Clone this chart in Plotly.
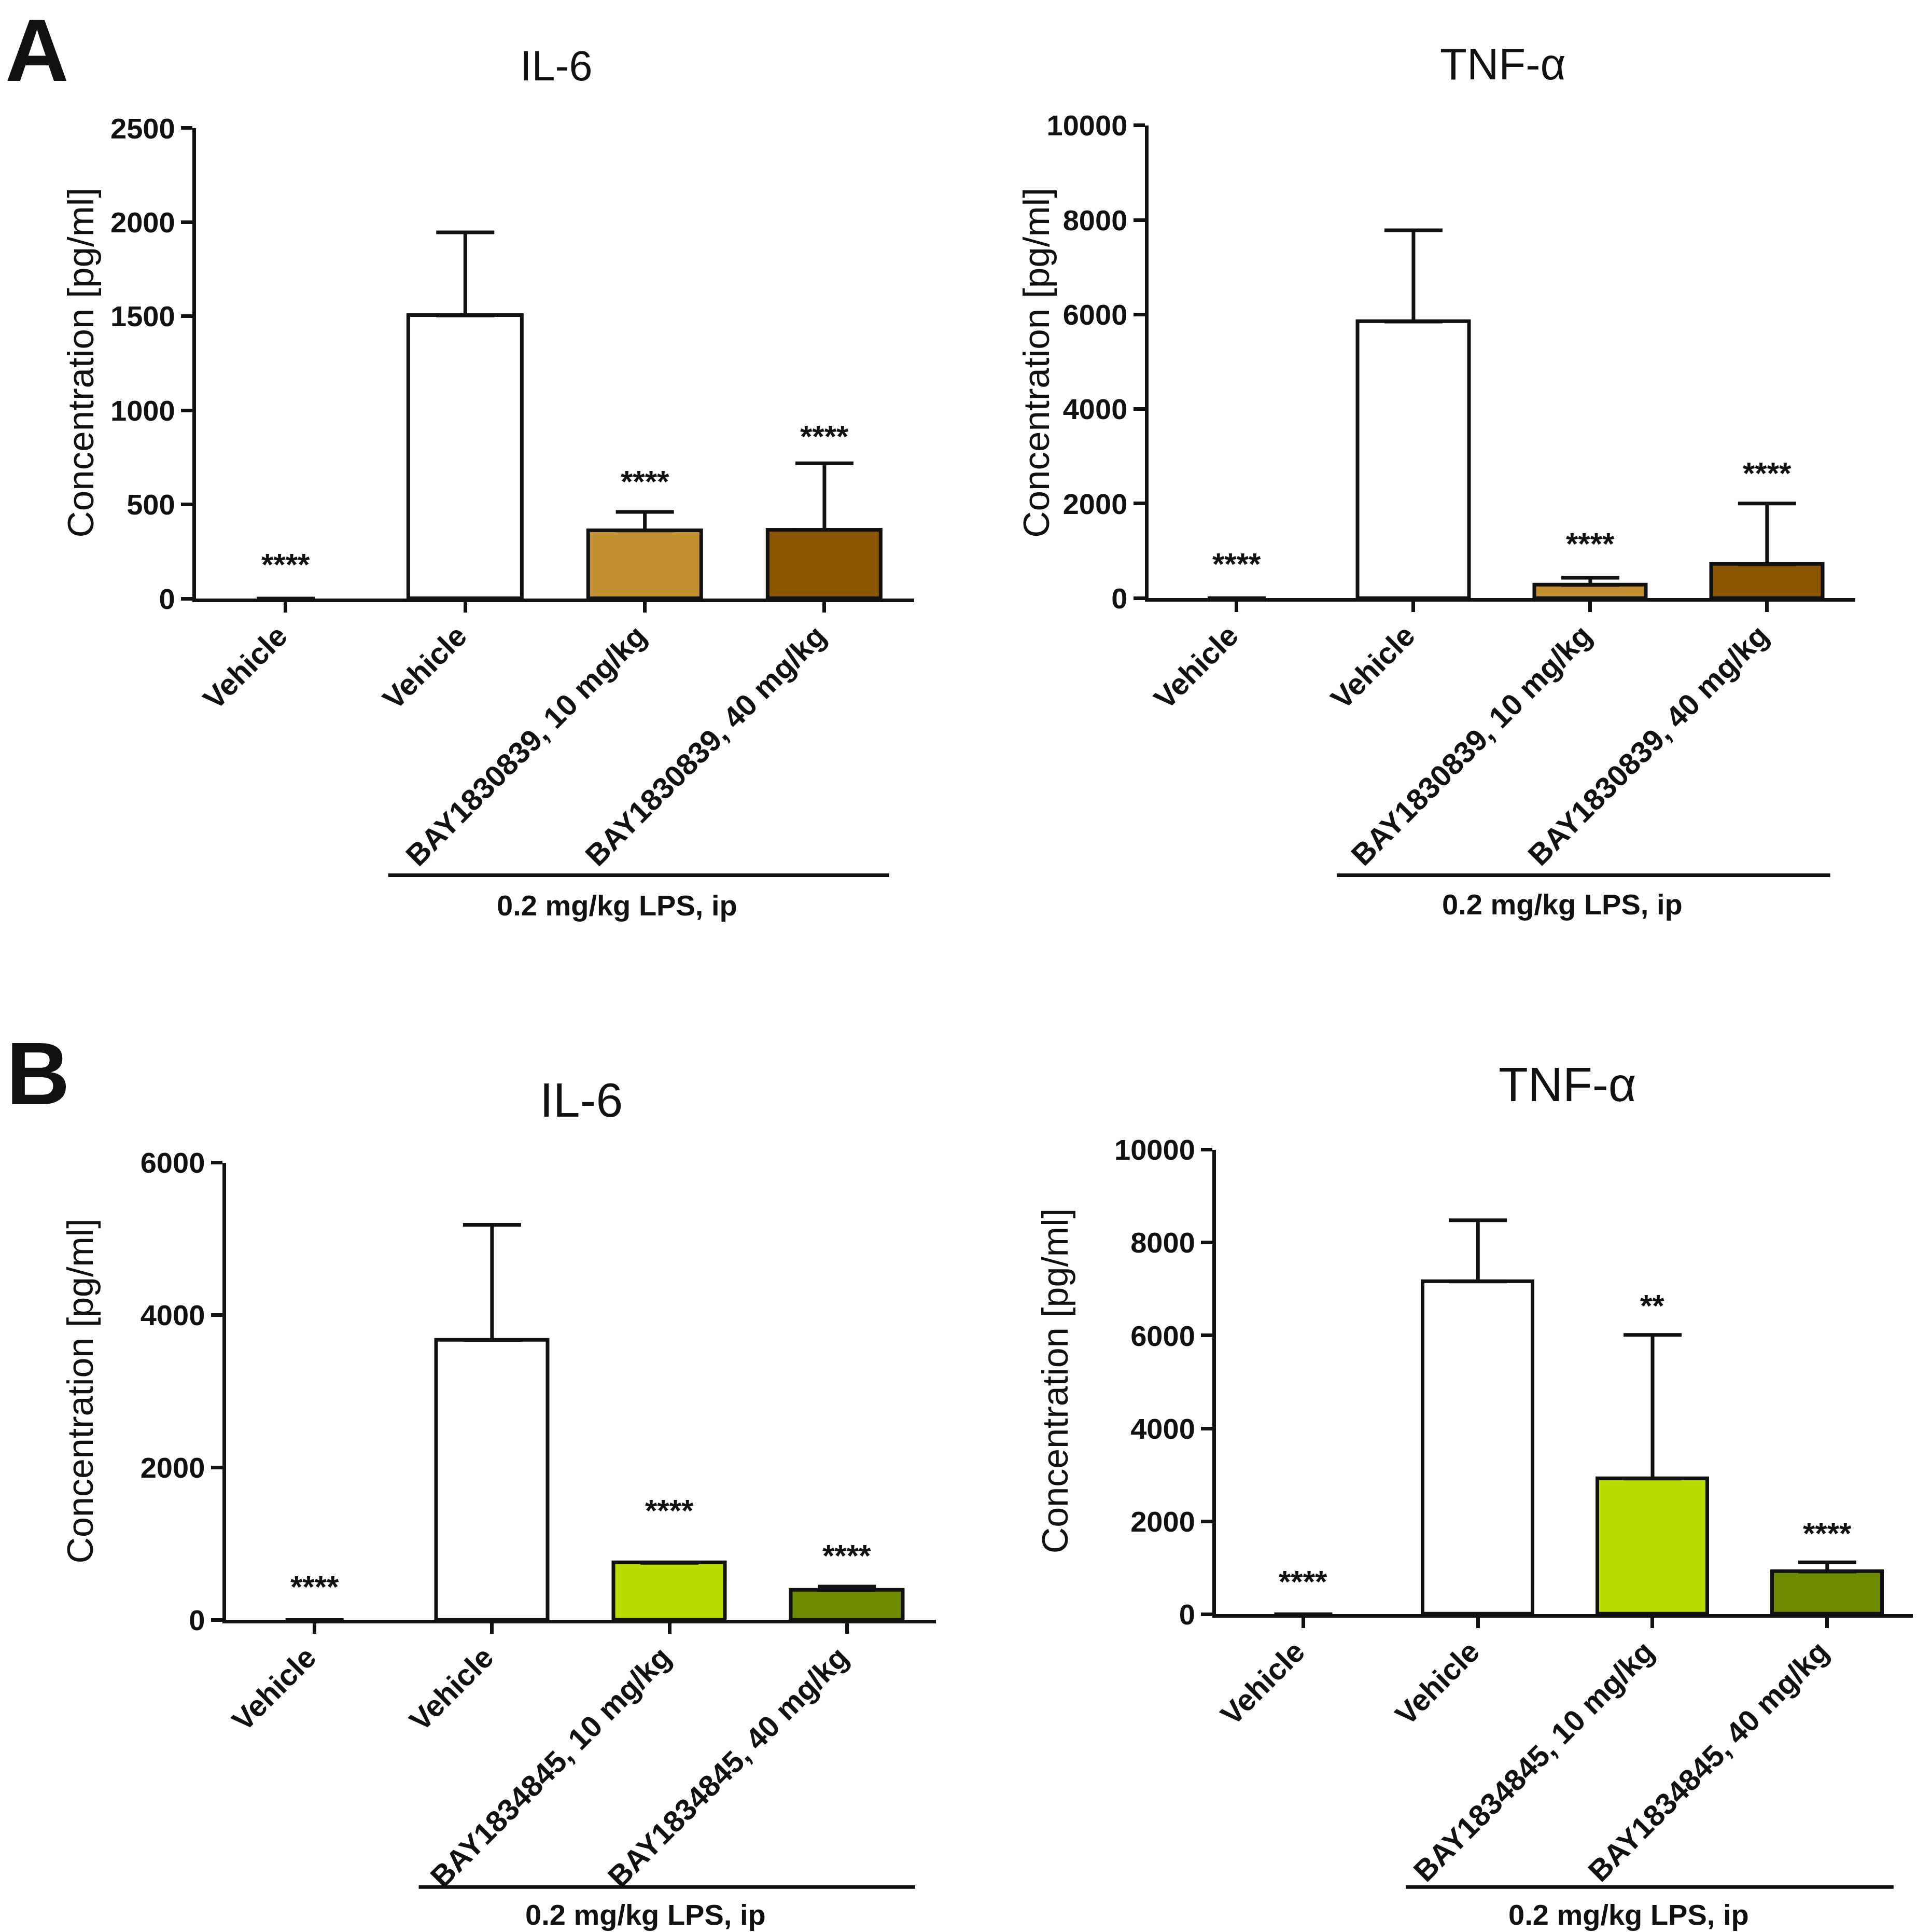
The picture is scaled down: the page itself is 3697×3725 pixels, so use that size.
import plotly.graph_objects as go

# ---------------------------------------------------------------------------
# data (mean and upper SD of each group)
# ---------------------------------------------------------------------------
x_pos = [0, 1, 2, 3]

labels_A = ["Vehicle", "Vehicle", "BAY1830839, 10 mg/kg", "BAY1830839, 40 mg/kg"]
labels_B = ["Vehicle", "Vehicle", "BAY1834845, 10 mg/kg", "BAY1834845, 40 mg/kg"]

il6_A_mean = [0, 1504, 362, 365]
il6_A_sd = [None, 442, 98, 354]
tnf_A_mean = [0, 5849, 279, 717]
tnf_A_sd = [None, 1931, 151, 1284]

il6_B_mean = [0, 3674, 750, 396]
il6_B_sd = [None, 1510, 0, 42]
tnf_B_mean = [0, 7163, 2921, 918]
tnf_B_sd = [None, 1319, 3092, 199]

# significance marks and the height they sit at
il6_A_stars = ["****", "", "****", "****"]
il6_A_star_y = [198, None, 638, 878]
tnf_A_stars = ["****", "", "****", "****"]
tnf_A_star_y = [784, None, 1214, 2710]
il6_B_stars = ["****", "", "****", "****"]
il6_B_star_y = [478, None, 1479, 886]
tnf_B_stars = ["****", "", "**", "****"]
tnf_B_star_y = [767, None, 6707, 1807]

colors_A = ["white", "white", "#C49132", "#8A5501"]
colors_B = ["white", "white", "#B6DC00", "#6F8C00"]

group_text = "0.2 mg/kg LPS, ip"
ytitle = "Concentration [pg/ml]"

# ---------------------------------------------------------------------------
W, H = 3697, 3725
FONT = "Liberation Sans, Arial, sans-serif"
INK = "#111111"
LW = 7
OFF = 8  # page body offset in px, compensated below


def PX(f):
    return f - OFF / W


def PY(f):
    return f + OFF / H


panels = [
    dict(title="IL-6", mean=il6_A_mean, sd=il6_A_sd, labels=labels_A, colors=colors_A,
         stars=il6_A_stars, star_y=il6_A_star_y, ymax=2500, dtick=500,
         xdom=[0.1022, 0.4769], ydom=[0.6902, 0.9337],
         title_xy=(0.2902, 0.9658), title_size=81, ytitle_xy=(0.0422, 0.8122), ytitle_size=71,
         line_x=[0.571, 3.36], line_y=0.5470, gtext_y=0.5313),
    dict(title="TNF-α", mean=tnf_A_mean, sd=tnf_A_sd, labels=labels_A, colors=colors_A,
         stars=tnf_A_stars, star_y=tnf_A_star_y, ymax=10000, dtick=2000,
         xdom=[0.5990, 0.9679], ydom=[0.6904, 0.9351],
         title_xy=(0.7839, 0.9668), title_size=85, ytitle_xy=(0.5405, 0.8122), ytitle_size=71,
         line_x=[0.566, 3.357], line_y=0.5470, gtext_y=0.5319),
    dict(title="IL-6", mean=il6_B_mean, sd=il6_B_sd, labels=labels_B, colors=colors_B,
         stars=il6_B_stars, star_y=il6_B_star_y, ymax=6000, dtick=2000,
         xdom=[0.1178, 0.4881], ydom=[0.1615, 0.3982],
         title_xy=(0.3032, 0.4305), title_size=93, ytitle_xy=(0.0418, 0.2800), ytitle_size=70,
         line_x=[0.587, 3.384], line_y=0.02328, gtext_y=0.0089),
    dict(title="TNF-α", mean=tnf_B_mean, sd=tnf_B_sd, labels=labels_B, colors=colors_B,
         stars=tnf_B_stars, star_y=tnf_B_star_y, ymax=10000, dtick=2000,
         xdom=[0.6343, 0.9987], ydom=[0.1645, 0.4049],
         title_xy=(0.8177, 0.4386), title_size=93, ytitle_xy=(0.5505, 0.2851), ytitle_size=70,
         line_x=[0.587, 3.38], line_y=0.02328, gtext_y=0.0089),
]

fig = go.Figure()
annotations = []
shapes = []

for n, p in enumerate(panels, start=1):
    xa = "x" if n == 1 else f"x{n}"
    ya = "y" if n == 1 else f"y{n}"

    fig.add_trace(go.Bar(
        x=x_pos, y=p["mean"], width=0.63,
        marker=dict(color=p["colors"],
                    line=dict(color=INK, width=[0 if v == 0 else LW for v in p["mean"]])),
        error_y=dict(type="data", symmetric=False, array=p["sd"], arrayminus=[0] * 4,
                     thickness=LW, width=56, color=INK),
        xaxis=xa, yaxis=ya, showlegend=False,
    ))

    fig.layout["xaxis" if n == 1 else f"xaxis{n}"] = dict(
        domain=[PX(v) for v in p["xdom"]], anchor=ya, range=[-0.5, 3.5], automargin=False,
        tickmode="array", tickvals=x_pos, ticktext=p["labels"], tickangle=-45,
        ticklabelshift=-14, ticklabelstandoff=-12,
        ticks="outside", ticklen=20, tickwidth=LW, tickcolor=INK,
        showline=True, linewidth=LW, linecolor=INK,
        showgrid=False, zeroline=False,
        tickfont=dict(family=FONT, size=58, color=INK, weight="bold"),
    )
    fig.layout["yaxis" if n == 1 else f"yaxis{n}"] = dict(
        domain=[PY(v) for v in p["ydom"]], anchor=xa, range=[0, p["ymax"]], dtick=p["dtick"],
        automargin=False, tickformat="d",
        ticks="outside", ticklen=22, tickwidth=LW, tickcolor=INK,
        showline=True, linewidth=LW, linecolor=INK,
        showgrid=False, zeroline=False,
        tickfont=dict(family=FONT, size=56, color=INK, weight="bold"),
    )

    # significance stars
    for xi, s, sy in zip(x_pos, p["stars"], p["star_y"]):
        if s:
            annotations.append(dict(x=xi, y=sy, xref=xa, yref=ya, text=s, showarrow=False,
                                    xanchor="center", yanchor="middle", yshift=-6,
                                    font=dict(family=FONT, size=60, color=INK, weight="bold")))

    # panel title
    annotations.append(dict(x=PX(p["title_xy"][0]), y=PY(p["title_xy"][1]), xref="paper", yref="paper",
                            text=p["title"], showarrow=False, xanchor="center", yanchor="middle",
                            font=dict(family=FONT, size=p["title_size"], color=INK)))
    # y axis title
    annotations.append(dict(x=PX(p["ytitle_xy"][0]), y=PY(p["ytitle_xy"][1]), xref="paper", yref="paper",
                            text=ytitle, textangle=-90, showarrow=False,
                            xanchor="center", yanchor="middle",
                            font=dict(family=FONT, size=p["ytitle_size"], color=INK)))

    # LPS group bracket
    shapes.append(dict(type="line", xref=xa, yref="paper", x0=p["line_x"][0], x1=p["line_x"][1],
                       y0=PY(p["line_y"]), y1=PY(p["line_y"]), line=dict(color=INK, width=LW)))
    annotations.append(dict(x=sum(p["line_x"]) / 2 - 0.12, y=PY(p["gtext_y"]), xref=xa, yref="paper",
                            text=group_text, showarrow=False, xanchor="center", yanchor="middle",
                            font=dict(family=FONT, size=56, color=INK, weight="bold")))

# panel letters
annotations.append(dict(x=PX(0), y=PY(1.0), xref="paper", yref="paper", text="A", showarrow=False,
                        xanchor="left", yanchor="top", xshift=8, yshift=0,
                        font=dict(family=FONT, size=170, color=INK, weight="bold")))
annotations.append(dict(x=PX(0), y=PY(1 - 2007 / 3725), xref="paper", yref="paper", text="B",
                        showarrow=False, xanchor="left", yanchor="top", xshift=10, yshift=34,
                        font=dict(family=FONT, size=170, color=INK, weight="bold")))

fig.update_layout(
    template="none",
    width=W, height=H,
    margin=dict(l=0, r=0, t=0, b=0, pad=0),
    paper_bgcolor="white", plot_bgcolor="white",
    annotations=annotations, shapes=shapes,
    showlegend=False, bargap=0,
)

fig.write_html("out.html")
